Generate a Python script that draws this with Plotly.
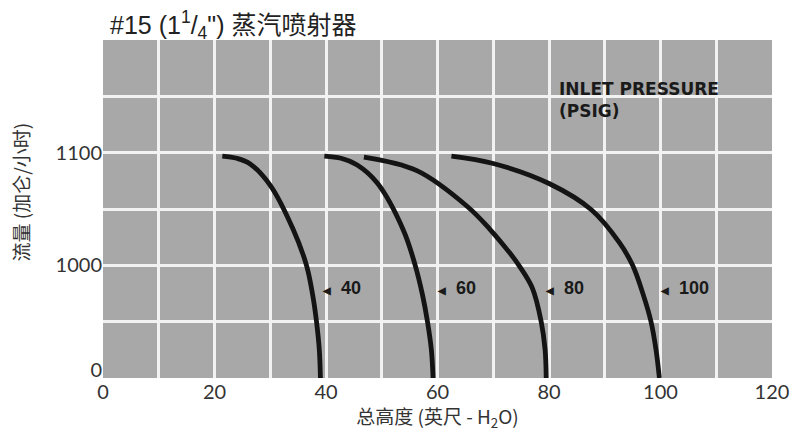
import plotly.graph_objects as go

# ---- data ----
pressures = ["40", "60", "80", "100"]

p40_x = [21.4, 24.0, 26.4, 30.0, 34.1, 36.5, 37.6, 38.3, 38.8, 39.0]
p40_y = [1097, 1095, 1090, 1071, 1032, 1000, 974, 950, 925, 900]

p60_x = [39.7, 42.7, 45.6, 49.2, 53.9, 56.0, 57.3, 58.2, 58.9, 59.2]
p60_y = [1097, 1095, 1089, 1073, 1031, 1000, 974, 950, 925, 900]

p80_x = [46.8, 56.3, 65.4, 69.4, 72.8, 74.6, 77.0, 78.6, 79.3, 79.5]
p80_y = [1096, 1084, 1052, 1032, 1012, 1000, 980, 950, 925, 900]

p100_x = [62.5, 70.0, 80.1, 87.6, 92.6, 95.0, 96.9, 98.3, 99.2, 99.8]
p100_y = [1097, 1090.4, 1072.4, 1049.3, 1020.3, 1000, 974, 950, 925, 900]

curves_x = [p40_x, p60_x, p80_x, p100_x]
curves_y = [p40_y, p60_y, p80_y, p100_y]

label_x = [38.9, 59.5, 79.0, 99.6]
label_y = [980, 980, 980, 980]

x_ticks = [0, 20, 40, 60, 80, 100, 120]
y_tickvals = [907, 1000, 1100]
y_ticktext = ["0", "1000", "1100"]
y_grid = [950, 1000, 1050, 1100, 1150]

legend_title = "INLET PRESSURE<br>(PSIG)"
legend_x = 81.5
legend_y = 1147

title_text = '#15 (1<sup>1</sup>/<sub>4</sub>") 蒸汽喷射器'
x_title = "总高度 (英尺 - H<sub>2</sub>O)"
y_title = "流量 (加仑/小时)"

# ---- figure ----
BG = "#a8a8a8"
GRID = "#f2f2f2"
TXT = "#333333"
FONT = "Lato, 'Noto Sans CJK SC', sans-serif"
CJK = "'Noto Sans CJK SC', Lato, sans-serif"
BOLD = "'Liberation Sans', Arial, sans-serif"

fig = go.Figure()
# curves share one value range; half drawn against the grid axis so it renders
axis_for = ["y", "y", "y2", "y2"]
for name, xs, ys, ya in zip(pressures, curves_x, curves_y, axis_for):
    fig.add_trace(go.Scatter(
        x=xs, y=ys, mode="lines", name=name, yaxis=ya,
        line=dict(color="#141414", width=4.8, shape="spline", smoothing=1.0),
        showlegend=False, hoverinfo="skip",
    ))

for name, lx, ly in zip(pressures, label_x, label_y):
    fig.add_annotation(
        x=lx, y=ly, xref="x", yref="y",
        text='<span style="font-size:10px">◀</span>  ' + name,
        showarrow=False, xanchor="left", yanchor="middle",
        font=dict(family=BOLD, size=18, color="#1a1a1a", weight="bold"),
    )

fig.add_annotation(
    x=legend_x, y=legend_y, xref="x", yref="y",
    text=legend_title, showarrow=False, align="left",
    xanchor="left", yanchor="middle",
    font=dict(family="'DejaVu Sans', sans-serif", size=17, color="#1a1a1a", weight="bold"),
)

# y-axis title (placed like the reference, slightly above centre)
fig.add_annotation(
    x=-0.123, y=0.551, xref="paper", yref="paper",
    text=y_title, textangle=-90, showarrow=False,
    xanchor="center", yanchor="middle",
    font=dict(family=CJK, size=19, color=TXT),
)

W, H = 793, 424   # page adds an 8px body margin on each side
fig.update_layout(
    width=W, height=H,
    margin=dict(l=95, r=22, t=32, b=47),
    paper_bgcolor="white",
    plot_bgcolor=BG,
    font=dict(family=FONT, color=TXT),
    title=dict(
        text=title_text, x=102 / W, xanchor="left", y=1 - 17 / H, yanchor="middle",
        font=dict(family="'Liberation Sans', 'Noto Sans CJK SC', sans-serif", size=25, color="#222222"),
    ),
    xaxis=dict(
        range=[0, 120], tickvals=x_ticks, showgrid=True, gridcolor=GRID, gridwidth=2.5,
        minor=dict(dtick=10, tick0=0, showgrid=True, gridcolor=GRID, gridwidth=2.5),
        zeroline=False, showline=False, ticks="",
        tickfont=dict(family=FONT, size=20, color=TXT),
        title=dict(text=x_title, font=dict(family=CJK, size=19, color=TXT), standoff=4),
    ),
    yaxis=dict(
        range=[900, 1200], tickvals=y_tickvals, ticktext=y_ticktext, showgrid=False,
        zeroline=False, showline=False, ticks="",
        tickfont=dict(family=FONT, size=20, color=TXT),
    ),
    yaxis2=dict(
        range=[900, 1200], overlaying="y", anchor="x", side="left",
        tickvals=y_grid, showgrid=True, gridcolor=GRID, gridwidth=2.5,
        showticklabels=False, zeroline=False, showline=False, ticks="",
    ),
)

fig.write_html("out.html")
